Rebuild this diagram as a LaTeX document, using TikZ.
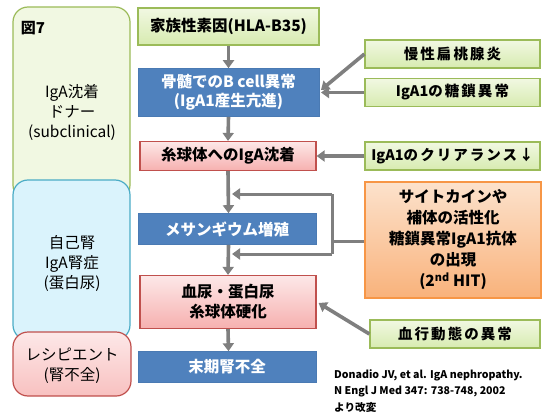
\documentclass[tikz,border=0pt]{standalone}
\usepackage{fontspec}
\setmainfont{Noto Sans CJK JP}
\newfontfamily\jpwide[LetterSpace=14]{Noto Sans CJK JP}
\newcommand{\lat}[1]{{\normalfont\bfseries #1}}
\usetikzlibrary{arrows.meta}
\definecolor{grnB}{HTML}{9BBB59}
\definecolor{grnT}{HTML}{F1F8E2}
\definecolor{grnM}{HTML}{D7EBB0}
\definecolor{bluF}{HTML}{4F81BD}
\definecolor{bluB}{HTML}{4A7AB3}
\definecolor{redB}{HTML}{C0504D}
\definecolor{redT}{HTML}{FDE8E8}
\definecolor{redM}{HTML}{F6B0AF}
\definecolor{orB}{HTML}{F79646}
\definecolor{orT}{HTML}{FCE2CC}
\definecolor{orM}{HTML}{F9B27B}
\definecolor{cyB}{HTML}{4BACC6}
\definecolor{cyF}{HTML}{DAF3FC}
\definecolor{arr}{HTML}{7F7F7F}
\tikzset{
  gbox/.style={draw=grnB, line width=1.2pt, top color=grnT, bottom color=grnM, font=\bfseries\fontsize{15.5}{18}\selectfont, align=center, inner sep=1pt},
  bbox/.style={draw=bluB, line width=0.6pt, fill=bluF, text=white, font=\bfseries\fontsize{15.5}{19}\selectfont, align=center, inner sep=1pt},
  rbox/.style={draw=redB, line width=1.2pt, top color=redT, bottom color=redM, font=\bfseries\fontsize{15.5}{20}\selectfont, align=center, inner sep=1pt},
  sgbox/.style={draw=grnB, line width=1.2pt, top color=grnT, bottom color=grnM, font=\jpwide\bfseries\fontsize{14.5}{16}\selectfont, align=center, inner sep=1pt},
  obox/.style={draw=orB, line width=1.2pt, top color=orT, bottom color=orM, font=\bfseries\fontsize{15.5}{21}\selectfont, align=center, inner sep=1pt},
  ar/.style={draw=arr, line width=3.6pt, -{Triangle[length=8pt,width=11pt]}},
  brk/.style={draw=arr, line width=3pt},
  lcol/.style={rounded corners=15pt, line width=1.2pt, font=\fontsize{15.5}{20}\selectfont, align=center}
}
\begin{document}
\begin{tikzpicture}[x=1pt,y=-1pt]
\useasboundingbox (0,0) rectangle (543,417);
% left column
\draw[lcol, draw=grnB, fill=grnT] (13,7) rectangle (130,200);
\node[font=\bfseries\fontsize{15}{17}\selectfont] (fig) at (33,28) {図7};
\node[lcol] (donor) at (72,112) {IgA沈着\\ドナー\\(subclinical)};
\draw[lcol, draw=cyB, fill=cyF] (13,180) rectangle (130,340);
\node[lcol] (own) at (72,263) {自己腎\\IgA腎症\\(蛋白尿)};
\draw[lcol, draw=redB, top color=redT, bottom color=redM!70!redT] (13,332) rectangle (131,396);
\node[lcol] (recip) at (72,366) {レシピエント\\(腎不全)};
% main column
\node[gbox, minimum width=181pt, minimum height=37pt] (m1) at (228.5,26.5) {家族性素因(HLA-B35)};
\node[bbox, minimum width=181pt, minimum height=48pt] (m2) at (228.5,92.5) {骨髄でのB cell異常\\(IgA1産生亢進)};
\node[rbox, minimum width=176pt, minimum height=29pt] (m3) at (228,156) {糸球体へのIgA沈着};
\node[bbox, minimum width=178pt, minimum height=31pt] (m4) at (227,229) {メサンギウム増殖};
\node[rbox, minimum width=176pt, minimum height=53pt] (m5) at (228,302) {血尿・蛋白尿\\糸球体硬化};
\node[bbox, minimum width=178pt, minimum height=31pt] (m6) at (227,367) {末期腎不全};
% right column
\node[sgbox, minimum width=175pt, minimum height=28pt] (r1) at (452.5,54) {慢性扁桃腺炎};
\node[sgbox, minimum width=175pt, minimum height=28pt] (r2) at (452.5,92.5) {\lat{IgA1}の糖鎖異常};
\node[sgbox, minimum width=175pt, minimum height=28pt] (r3) at (452.5,156) {\lat{IgA1}のクリアランス↓};
\node[obox, minimum width=176pt, minimum height=116pt] (r4) at (453,240) {サイトカインや\\補体の活性化\\糖鎖異常IgA1抗体\\の出現\\(2\textsuperscript{nd} HIT)};
\node[sgbox, minimum width=170pt, minimum height=28pt] (r5) at (455,334) {血行動態の異常};
% citation
\node[anchor=north west, font=\bfseries\fontsize{10.6}{16.5}\selectfont, align=left, inner sep=0pt] (cite) at (334,369) {Donadio JV, et al. IgA nephropathy.\\N Engl J Med 347: 738-748, 2002\\より改変};
% main arrows
\draw[ar] (m1.south) -- (m2.north);
\draw[ar] (m2.south) -- (m3.north);
\draw[ar] (m3.south) -- ([xshift=1.5pt]m4.north);
\draw[ar] ([xshift=1.5pt]m4.south) -- (m5.north);
\draw[ar] (m5.south) -- ([xshift=1.5pt]m6.north);
% side arrows
\coordinate (t1) at (321,90);
\coordinate (t2) at (321,92.5);
\draw[ar] (r1.west) -- (t1);
\draw[ar] (r2.west) -- (t2);
\draw[ar] (r3.west) -- (m3.east);
\draw[ar] (r5.west) -- ([xshift=2pt,yshift=-1pt]m5.east);
% bracket
\coordinate (bt) at (332,194);
\coordinate (bb) at (332,254);
\coordinate (bm) at (332,241);
\coordinate (at1) at (232,194);
\coordinate (at2) at (232,254);
\draw[brk] (r4.west |- bm) -- (bm);
\draw[brk] (bb) -- (bt);
\draw[ar, line width=3pt] (bt) -- (at1);
\draw[ar, line width=3pt] (bb) -- (at2);
\end{tikzpicture}
\end{document}
